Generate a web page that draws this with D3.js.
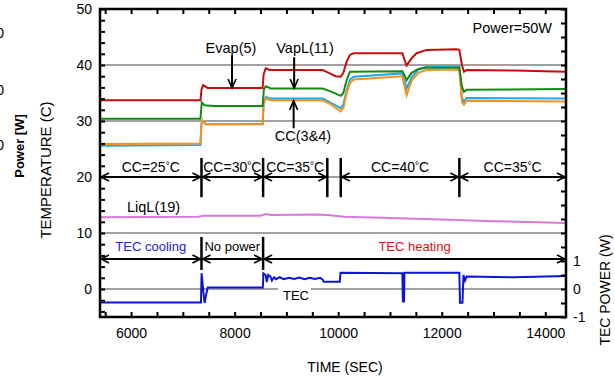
<!DOCTYPE html>
<html>
<head>
<meta charset="utf-8">
<script src="https://cdn.jsdelivr.net/npm/d3@7"></script>
<style>
  body { margin: 0; background: #fff; }
  text { font-family: "Liberation Sans", Arial, sans-serif; }
</style>
</head>
<body>
<svg id="chart" width="615" height="378"></svg>
<script>
// [time (s), temperature (C)]
const evap5 = [[5400,33.7],[7340,33.7],[7360,35.6],[7390,36.4],[7480,35.9],[8540,35.9],[8560,38.3],[8600,39.4],[8680,39.1],[9700,39.1],[9820,38.6],[9950,38.0],[10050,37.9],[10100,38.6],[10164,40.6],[10228,41.8],[10292,42.1],[11240,42.1],[11300,40.4],[11322,39.9],[11370,40.6],[11419,41.2],[11515,42.1],[11708,42.7],[12288,42.8],[12340,42.7],[12390,40.0],[12429,38.8],[12480,39.1],[13400,39.0],[14400,38.8]];
const vapl11 = [[5400,30.4],[7340,30.4],[7365,33.3],[7420,32.8],[7600,32.7],[8540,32.7],[8565,35.6],[8600,36.2],[8700,35.8],[9700,35.8],[9850,35.3],[10050,34.5],[10100,35.0],[10164,37.3],[10228,38.8],[11240,38.9],[11300,37.8],[11322,37.3],[11419,38.6],[11550,39.3],[11700,39.5],[12340,39.5],[12390,36.2],[12429,35.2],[12480,35.6],[14400,35.7]];
const cc3 = [[5400,25.6],[7340,25.7],[7360,29.5],[7385,30.0],[7450,29.4],[8540,29.4],[8560,33.0],[8600,34.3],[8700,34.0],[9700,34.0],[9850,33.3],[10050,32.3],[10100,33.0],[10164,35.5],[10228,37.4],[10300,37.9],[11240,38.5],[11300,36.6],[11322,35.8],[11419,37.8],[11550,39.2],[11700,39.7],[12340,39.7],[12390,34.2],[12429,33.4],[12480,34.1],[14400,34.0]];
const cc4 = [[5400,25.9],[7340,26.0],[7360,29.6],[7385,30.1],[7450,29.4],[8540,29.5],[8560,33.2],[8600,34.0],[8700,33.7],[9700,33.7],[9850,33.0],[10050,31.7],[10100,32.3],[10164,35.0],[10228,36.8],[10300,37.4],[11240,38.0],[11300,35.4],[11322,34.6],[11419,37.2],[11550,38.6],[11700,39.1],[12340,39.2],[12390,33.4],[12429,32.9],[12480,33.6],[14400,33.5]];
const liql19 = [[5400,12.8],[7300,12.9],[7400,13.1],[8500,13.1],[8600,13.4],[8700,13.2],[9600,13.3],[9800,13.2],[10100,12.9],[11000,12.7],[12300,12.3],[13000,12.1],[14400,11.8]];
// [time (s), TEC power (W)]
const tec = [[5400,-0.48],[7350,-0.48],[7362,0.56],[7385,0.1],[7420,-0.5],[7450,-0.2],[7480,0.05],[8545,0.05],[8555,0.56],[8600,0.5],[8620,0.25],[8650,0.5],[8690,0.45],[8720,0.3],[8760,0.42],[8800,0.35],[8870,0.42],[8950,0.35],[9050,0.4],[9150,0.36],[9250,0.41],[9350,0.35],[9450,0.4],[9550,0.36],[9650,0.4],[9700,0.33],[9720,0.26],[10030,0.26],[10045,0.58],[11240,0.56],[11250,-0.45],[11270,-0.45],[11280,0.58],[12340,0.58],[12352,-0.49],[12400,-0.49],[12420,0.5],[12450,0.3],[12480,0.45],[13400,0.42],[14400,0.46]];

const tempTicks = [0, 10, 20, 30, 40, 50];
const powerTicks = [-1, 0, 1];
const timeTicks = [6000, 8000, 10000, 12000, 14000];

// condenser set-point segments and TEC mode segments
const ccSegments = [[5400,7360,"CC=25"],[7360,8550,"CC=30"],[8550,9790,"CC=35"],[10050,12340,"CC=40"],[12340,14400,"CC=35"]];
const ccBreaks = [7360, 8550, 9790, 10050, 12340];
const tecSegments = [[5400,7360,"TEC cooling","#2222dd"],[7360,8550,"No power","#000"],[8550,14400,"TEC heating","#dd1111"]];
const tecBreaks = [7360, 8550];

const svg = d3.select('#chart');
const x = d3.scaleLinear().domain([5400, 14400]).range([100, 566]);
const yL = d3.scaleLinear().domain([-5, 50]).range([317, 9]);
const yR = d3.scaleLinear().domain([-1, 10]).range([317, 9]);

// grid lines
svg.append('g').selectAll('line')
  .data([0, 10, 20, 30, 40])
  .join('line')
  .attr('x1', 100).attr('x2', 566)
  .attr('y1', d => yL(d)).attr('y2', d => yL(d))
  .attr('stroke', '#a0a0a0').attr('stroke-width', 2);

// data lines
const lineL = d3.line().x(d => x(d[0])).y(d => yL(d[1]));
const lineR = d3.line().x(d => x(d[0])).y(d => yR(d[1]));
const series = [
  [cc3, '#1fa8e8'], [cc4, '#f7901e'], [vapl11, '#138a13'],
  [evap5, '#c80c0c'], [liql19, '#d878d8']
];
series.forEach(([data, color]) => {
  svg.append('path').datum(data)
    .attr('d', lineL).attr('fill', 'none')
    .attr('stroke', color).attr('stroke-width', 2);
});

// TEC label with white box over the grid line
svg.append('rect').attr('x', 278).attr('y', yL(0) - 1).attr('width', 33).attr('height', 12).attr('fill', '#fff');
svg.append('text').attr('x', 296).attr('y', 300).attr('text-anchor', 'middle')
  .attr('font-size', 13).text('TEC');

svg.append('path').datum(tec)
  .attr('d', lineR).attr('fill', 'none')
  .attr('stroke', '#0a14d6').attr('stroke-width', 2);

// double headed arrows
function arrow(g, x1, x2, y) {
  g.append('line').attr('x1', x1).attr('x2', x2).attr('y1', y).attr('y2', y)
    .attr('stroke', '#000').attr('stroke-width', 2);
  g.append('path').attr('d', `M${x1 + 9},${y - 4}L${x1 + 1},${y}L${x1 + 9},${y + 4}`)
    .attr('fill', 'none').attr('stroke', '#000').attr('stroke-width', 1.6);
  g.append('path').attr('d', `M${x2 - 9},${y - 4}L${x2 - 1},${y}L${x2 - 9},${y + 4}`)
    .attr('fill', 'none').attr('stroke', '#000').attr('stroke-width', 1.6);
}

const ann = svg.append('g');
const row1 = yL(20);
ccSegments.forEach(s => {
  arrow(ann, x(s[0]), x(s[1]), row1);
  const t = ann.append('text').attr('x', x((s[0] + s[1]) / 2)).attr('y', row1 - 5)
    .attr('text-anchor', 'middle').attr('font-size', 14);
  t.append('tspan').text(s[2]);
  t.append('tspan').attr('font-size', 10).attr('dy', -3).text('°');
  t.append('tspan').attr('dy', 3).text('C');
});
ann.selectAll('line.sep1').data(ccBreaks).join('line')
  .attr('x1', d => x(d)).attr('x2', d => x(d))
  .attr('y1', yL(23.4)).attr('y2', yL(16.4))
  .attr('stroke', '#000').attr('stroke-width', 2.5);

const row2 = yL(5.35);
tecSegments.forEach(s => {
  arrow(ann, x(s[0]), x(s[1]), row2);
  ann.append('text').attr('x', x((s[0] + s[1]) / 2)).attr('y', row2 - 8)
    .attr('text-anchor', 'middle').attr('font-size', 13)
    .attr('fill', s[3]).text(s[2]);
});
ann.selectAll('line.sep2').data(tecBreaks).join('line')
  .attr('x1', d => x(d)).attr('x2', d => x(d))
  .attr('y1', yL(9.3)).attr('y2', yL(3.4))
  .attr('stroke', '#000').attr('stroke-width', 2.5);

// pointer arrows
function pointer(xp, yFrom, yTo) {
  ann.append('line').attr('x1', xp).attr('x2', xp).attr('y1', yFrom).attr('y2', yTo)
    .attr('stroke', '#000').attr('stroke-width', 2);
  const s = yTo > yFrom ? -1 : 1;
  ann.append('path').attr('d', `M${xp - 4},${yTo + s * 9}L${xp},${yTo}L${xp + 4},${yTo + s * 9}`)
    .attr('fill', 'none').attr('stroke', '#000').attr('stroke-width', 1.6);
}
pointer(x(7950), yL(41.7), yL(35.9));
pointer(x(9150), yL(41.4), yL(35.9));
pointer(x(9140), yL(28.7), yL(33.6));
ann.append('text').attr('x', 231).attr('y', 53).attr('text-anchor', 'middle').attr('font-size', 14.5).text('Evap(5)');
ann.append('text').attr('x', 305).attr('y', 53).attr('text-anchor', 'middle').attr('font-size', 14.5).text('VapL(11)');
ann.append('text').attr('x', 303).attr('y', 141).attr('text-anchor', 'middle').attr('font-size', 14.5).text('CC(3&4)');
ann.append('text').attr('x', 552).attr('y', 33).attr('text-anchor', 'end').attr('font-size', 14.5).text('Power=50W');
ann.append('text').attr('x', 127).attr('y', 212).attr('font-size', 14.5).text('LiqL(19)');

// axes, ticks inward
const axL = d3.axisLeft(yL).tickValues(d3.range(-4, 51, 2)).tickSize(-5).tickPadding(8)
  .tickFormat(d => tempTicks.includes(d) ? d : '');
const axR = d3.axisRight(yR).tickValues(d3.range(-1, 10.01, 0.5)).tickSize(-5).tickPadding(7)
  .tickFormat(d => powerTicks.includes(d) ? d : '');
const axB = d3.axisBottom(x).tickValues(d3.range(5500, 14400, 500)).tickSize(-5).tickPadding(11)
  .tickFormat(d => timeTicks.includes(d) ? d : '');
const axT = d3.axisTop(x).tickValues(d3.range(5500, 14400, 500)).tickSize(-5).tickFormat('');

[[axL, 'translate(100,0)'], [axR, 'translate(566,0)'], [axB, 'translate(0,317)'], [axT, 'translate(0,9)']]
  .forEach(([ax, tr]) => {
    const g = svg.append('g').attr('transform', tr).call(ax);
    g.select('.domain').remove();
    g.selectAll('line').attr('stroke', '#000').attr('stroke-width', 2);
    g.selectAll('text').attr('font-size', 14).attr('fill', '#000')
      .attr('font-family', '"Liberation Sans", Arial, sans-serif');
  });

svg.append('rect').attr('x', 100).attr('y', 9).attr('width', 466).attr('height', 308)
  .attr('fill', 'none').attr('stroke', '#000').attr('stroke-width', 2.5);

// axis titles
svg.append('text').attr('transform', 'translate(51,170) rotate(-90)')
  .attr('text-anchor', 'middle').attr('font-size', 15).text('TEMPERATURE (C)');
svg.append('text').attr('transform', 'translate(610,290) rotate(-90)')
  .attr('text-anchor', 'middle').attr('font-size', 14).text('TEC POWER (W)');
svg.append('text').attr('x', 345).attr('y', 372)
  .attr('text-anchor', 'middle').attr('font-size', 14).text('TIME (SEC)');

// cut-off neighbouring figure on the left edge
svg.append('text').attr('transform', 'translate(24,146) rotate(-90)')
  .attr('text-anchor', 'middle').attr('font-size', 13).attr('font-weight', 'bold').text('Power [W]');
svg.selectAll('text.stub').data([33, 90, 145]).join('text')
  .attr('x', 4).attr('y', d => d + 5).attr('text-anchor', 'end').attr('font-size', 14).text('0');
</script>
</body>
</html>
